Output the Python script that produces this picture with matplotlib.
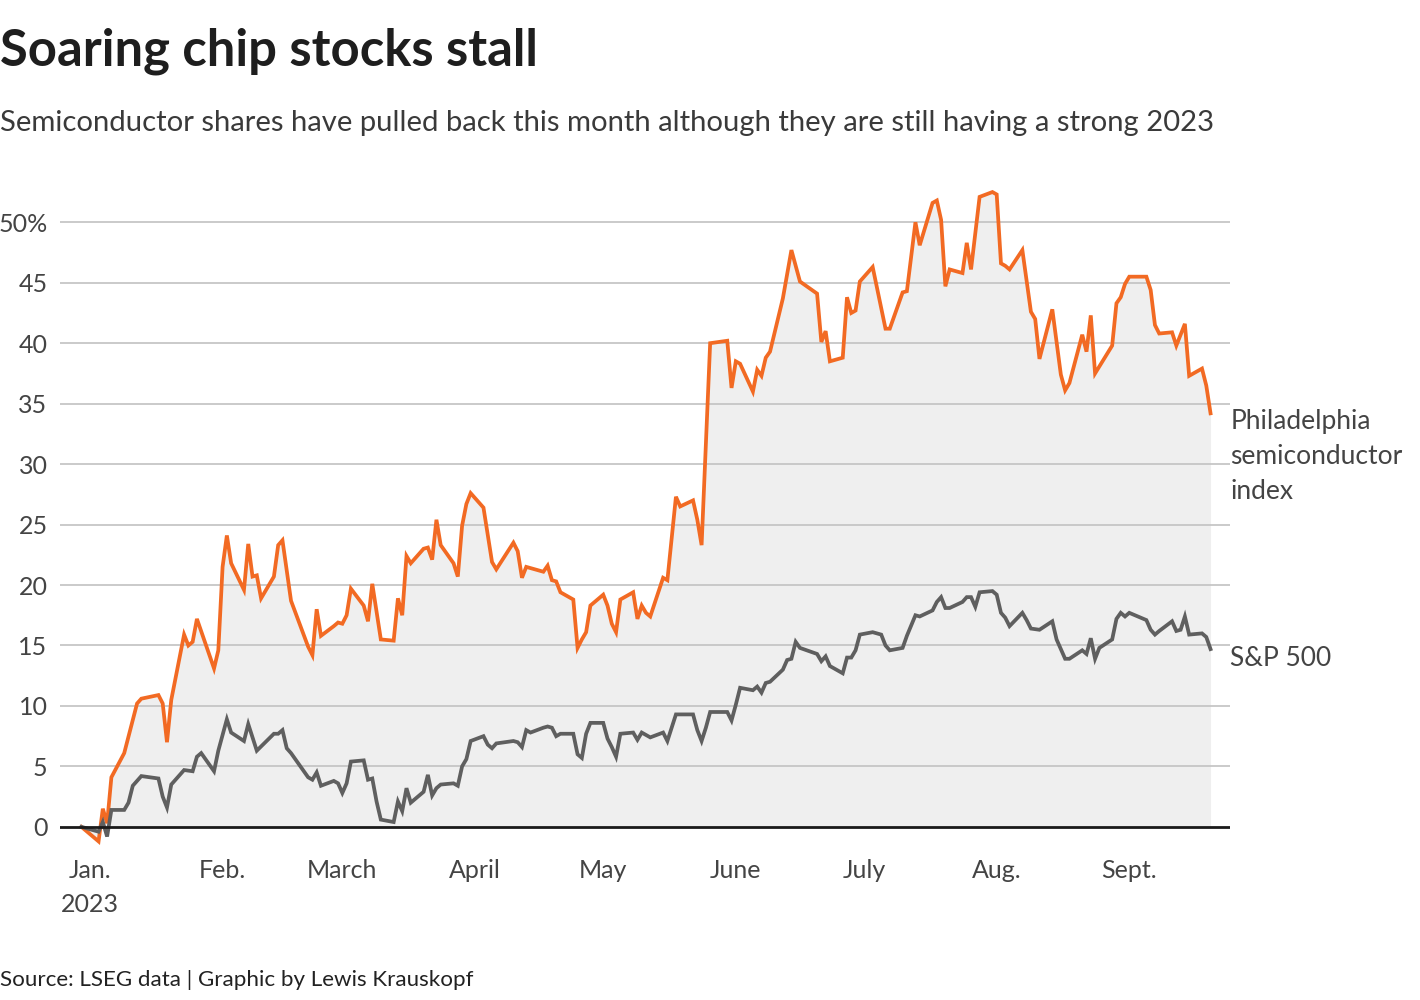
import matplotlib
matplotlib.use("Agg")
import matplotlib.pyplot as plt
import matplotlib.transforms as mtransforms
import pandas as pd

plt.rcParams["font.family"] = ["Lato", "DejaVu Sans"]

# Philadelphia semiconductor index, % change since end of 2022
sox_dates = [
    "2022-12-30", "2023-01-03", "2023-01-04", "2023-01-05", "2023-01-06", "2023-01-09",
    "2023-01-12", "2023-01-13", "2023-01-17", "2023-01-18", "2023-01-19", "2023-01-20",
    "2023-01-23", "2023-01-24", "2023-01-25", "2023-01-26", "2023-01-30", "2023-01-31",
    "2023-02-01", "2023-02-02", "2023-02-03", "2023-02-06", "2023-02-07", "2023-02-08",
    "2023-02-09", "2023-02-10", "2023-02-13", "2023-02-14", "2023-02-15", "2023-02-17",
    "2023-02-21", "2023-02-22", "2023-02-23", "2023-02-24", "2023-02-27", "2023-02-28",
    "2023-03-01", "2023-03-02", "2023-03-03", "2023-03-06", "2023-03-07", "2023-03-08",
    "2023-03-10", "2023-03-13", "2023-03-14", "2023-03-15", "2023-03-16", "2023-03-17",
    "2023-03-20", "2023-03-21", "2023-03-22", "2023-03-23", "2023-03-24", "2023-03-27",
    "2023-03-28", "2023-03-29", "2023-03-30", "2023-03-31", "2023-04-03", "2023-04-05",
    "2023-04-06", "2023-04-10", "2023-04-11", "2023-04-12", "2023-04-13", "2023-04-14",
    "2023-04-17", "2023-04-18", "2023-04-19", "2023-04-20", "2023-04-21", "2023-04-24",
    "2023-04-25", "2023-04-26", "2023-04-27", "2023-04-28", "2023-05-01", "2023-05-02",
    "2023-05-03", "2023-05-04", "2023-05-05", "2023-05-08", "2023-05-09", "2023-05-10",
    "2023-05-11", "2023-05-12", "2023-05-15", "2023-05-16", "2023-05-18", "2023-05-19",
    "2023-05-22", "2023-05-23", "2023-05-24", "2023-05-26", "2023-05-30", "2023-05-31",
    "2023-06-01", "2023-06-02", "2023-06-05", "2023-06-06", "2023-06-07", "2023-06-08",
    "2023-06-09", "2023-06-12", "2023-06-14", "2023-06-16", "2023-06-20", "2023-06-21",
    "2023-06-22", "2023-06-23", "2023-06-26", "2023-06-27", "2023-06-28", "2023-06-29",
    "2023-06-30", "2023-07-03", "2023-07-06", "2023-07-07", "2023-07-10", "2023-07-11",
    "2023-07-13", "2023-07-14", "2023-07-17", "2023-07-18", "2023-07-19", "2023-07-20",
    "2023-07-21", "2023-07-24", "2023-07-25", "2023-07-26", "2023-07-28", "2023-07-31",
    "2023-08-01", "2023-08-02", "2023-08-03", "2023-08-04", "2023-08-07", "2023-08-09",
    "2023-08-10", "2023-08-11", "2023-08-14", "2023-08-16", "2023-08-17", "2023-08-18",
    "2023-08-21", "2023-08-22", "2023-08-23", "2023-08-24", "2023-08-28", "2023-08-29",
    "2023-08-30", "2023-08-31", "2023-09-01", "2023-09-05", "2023-09-06", "2023-09-07",
    "2023-09-08", "2023-09-11", "2023-09-12", "2023-09-14", "2023-09-15", "2023-09-18",
    "2023-09-19", "2023-09-20",
]
sox_values = [
    0.0, -1.2, 1.5, 0.3, 4.1, 6.1,
    10.2, 10.6, 10.9, 10.2, 7.0, 10.5,
    15.9, 15.0, 15.3, 17.2, 13.1, 14.6,
    21.5, 24.1, 21.8, 19.6, 23.4, 20.7,
    20.8, 18.9, 20.7, 23.3, 23.7, 18.7,
    14.9, 14.2, 18.0, 15.8, 16.6, 16.9,
    16.8, 17.5, 19.7, 18.3, 17.0, 20.1,
    15.5, 15.4, 18.9, 17.5, 22.4, 21.8,
    23.0, 23.1, 22.1, 25.4, 23.3, 21.8,
    20.7, 24.9, 26.7, 27.6, 26.4, 21.9,
    21.3, 23.5, 22.8, 20.6, 21.5, 21.4,
    21.1, 21.6, 20.4, 20.3, 19.4, 18.8,
    14.8, 15.5, 16.1, 18.3, 19.2, 18.3,
    16.8, 16.1, 18.8, 19.4, 17.2, 18.3,
    17.7, 17.4, 20.6, 20.4, 27.3, 26.5,
    27.0, 25.4, 23.3, 40.0, 40.2, 36.3,
    38.5, 38.3, 36.0, 37.8, 37.3, 38.8,
    39.3, 43.7, 47.7, 45.1, 44.1, 40.1,
    41.0, 38.5, 38.8, 43.8, 42.5, 42.7,
    45.1, 46.3, 41.2, 41.2, 44.2, 44.3,
    50.0, 48.1, 51.6, 51.8, 50.2, 44.7,
    46.1, 45.8, 48.3, 46.1, 52.1, 52.5,
    52.3, 46.6, 46.4, 46.1, 47.7, 42.6,
    42.0, 38.7, 42.8, 37.4, 36.1, 36.7,
    40.7, 39.3, 42.3, 37.5, 39.8, 43.3,
    43.8, 44.9, 45.5, 45.5, 44.4, 41.5,
    40.8, 40.9, 39.8, 41.6, 37.3, 37.9,
    36.5, 34.2,
]

# S&P 500, % change since end of 2022
spx_dates = [
    "2022-12-30", "2023-01-03", "2023-01-04", "2023-01-05", "2023-01-06", "2023-01-09",
    "2023-01-10", "2023-01-11", "2023-01-13", "2023-01-17", "2023-01-18", "2023-01-19",
    "2023-01-20", "2023-01-23", "2023-01-25", "2023-01-26", "2023-01-27", "2023-01-30",
    "2023-01-31", "2023-02-02", "2023-02-03", "2023-02-06", "2023-02-07", "2023-02-09",
    "2023-02-13", "2023-02-14", "2023-02-15", "2023-02-16", "2023-02-17", "2023-02-21",
    "2023-02-22", "2023-02-23", "2023-02-24", "2023-02-27", "2023-02-28", "2023-03-01",
    "2023-03-02", "2023-03-03", "2023-03-06", "2023-03-07", "2023-03-08", "2023-03-09",
    "2023-03-10", "2023-03-13", "2023-03-14", "2023-03-15", "2023-03-16", "2023-03-17",
    "2023-03-20", "2023-03-21", "2023-03-22", "2023-03-23", "2023-03-24", "2023-03-27",
    "2023-03-28", "2023-03-29", "2023-03-30", "2023-03-31", "2023-04-03", "2023-04-04",
    "2023-04-05", "2023-04-06", "2023-04-10", "2023-04-11", "2023-04-12", "2023-04-13",
    "2023-04-14", "2023-04-17", "2023-04-18", "2023-04-19", "2023-04-20", "2023-04-21",
    "2023-04-24", "2023-04-25", "2023-04-26", "2023-04-27", "2023-04-28", "2023-05-01",
    "2023-05-02", "2023-05-03", "2023-05-04", "2023-05-05", "2023-05-08", "2023-05-09",
    "2023-05-10", "2023-05-12", "2023-05-15", "2023-05-16", "2023-05-18", "2023-05-19",
    "2023-05-22", "2023-05-23", "2023-05-24", "2023-05-25", "2023-05-26", "2023-05-30",
    "2023-05-31", "2023-06-01", "2023-06-02", "2023-06-05", "2023-06-06", "2023-06-07",
    "2023-06-08", "2023-06-09", "2023-06-12", "2023-06-13", "2023-06-14", "2023-06-15",
    "2023-06-16", "2023-06-20", "2023-06-21", "2023-06-22", "2023-06-23", "2023-06-26",
    "2023-06-27", "2023-06-28", "2023-06-29", "2023-06-30", "2023-07-03", "2023-07-05",
    "2023-07-06", "2023-07-07", "2023-07-10", "2023-07-11", "2023-07-13", "2023-07-14",
    "2023-07-17", "2023-07-18", "2023-07-19", "2023-07-20", "2023-07-21", "2023-07-24",
    "2023-07-25", "2023-07-26", "2023-07-27", "2023-07-28", "2023-07-31", "2023-08-01",
    "2023-08-02", "2023-08-03", "2023-08-04", "2023-08-07", "2023-08-08", "2023-08-09",
    "2023-08-11", "2023-08-14", "2023-08-15", "2023-08-17", "2023-08-18", "2023-08-21",
    "2023-08-22", "2023-08-23", "2023-08-24", "2023-08-25", "2023-08-28", "2023-08-29",
    "2023-08-30", "2023-08-31", "2023-09-01", "2023-09-05", "2023-09-06", "2023-09-07",
    "2023-09-08", "2023-09-11", "2023-09-12", "2023-09-13", "2023-09-14", "2023-09-15",
    "2023-09-18", "2023-09-19", "2023-09-20",
]
spx_values = [
    0.0, -0.4, 0.4, -0.8, 1.4, 1.4,
    2.0, 3.4, 4.2, 4.0, 2.5, 1.6,
    3.5, 4.7, 4.6, 5.8, 6.1, 4.6,
    6.3, 8.9, 7.8, 7.1, 8.5, 6.3,
    7.7, 7.7, 8.0, 6.5, 6.1, 4.1,
    3.9, 4.5, 3.4, 3.8, 3.6, 2.8,
    3.6, 5.4, 5.5, 3.9, 4.0, 2.1,
    0.6, 0.4, 2.1, 1.3, 3.2, 2.0,
    2.9, 4.3, 2.6, 3.2, 3.5, 3.6,
    3.4, 5.0, 5.6, 7.1, 7.5, 6.8,
    6.5, 6.9, 7.1, 7.0, 6.6, 8.0,
    7.8, 8.2, 8.3, 8.2, 7.5, 7.7,
    7.7, 6.0, 5.7, 7.7, 8.6, 8.6,
    7.3, 6.6, 5.8, 7.7, 7.8, 7.2,
    7.8, 7.4, 7.8, 7.1, 9.3, 9.3,
    9.3, 8.0, 7.1, 8.2, 9.5, 9.5,
    8.8, 10.1, 11.5, 11.3, 11.6, 11.1,
    11.9, 12.0, 13.0, 13.8, 13.9, 15.3,
    14.8, 14.3, 13.7, 14.1, 13.3, 12.7,
    14.0, 14.0, 14.6, 15.9, 16.1, 15.9,
    15.0, 14.6, 14.8, 15.8, 17.5, 17.4,
    17.9, 18.6, 19.0, 18.1, 18.1, 18.6,
    19.0, 19.0, 18.2, 19.4, 19.5, 19.2,
    17.7, 17.3, 16.6, 17.7, 17.1, 16.4,
    16.3, 17.0, 15.5, 13.9, 13.9, 14.6,
    14.3, 15.6, 13.9, 14.8, 15.5, 17.2,
    17.7, 17.4, 17.7, 17.1, 16.3, 15.9,
    16.2, 17.0, 16.2, 16.3, 17.4, 15.9,
    16.0, 15.7, 14.7,
]

month_ticks = ["2023-01-01", "2023-02-01", "2023-03-01", "2023-04-01", "2023-05-01",
               "2023-06-01", "2023-07-01", "2023-08-01", "2023-09-01"]
month_labels = ["Jan.\n2023", "Feb.", "March", "April", "May", "June", "July", "Aug.", "Sept."]
y_ticks = [0, 5, 10, 15, 20, 25, 30, 35, 40, 45, 50]
y_labels = ["0", "5", "10", "15", "20", "25", "30", "35", "40", "45", "50%"]

ORANGE = "#f26a23"
GREY = "#5f5f5f"
TEXT = "#444444"

sox_x = pd.to_datetime(sox_dates)
spx_x = pd.to_datetime(spx_dates)

fig = plt.figure(figsize=(14.2, 10), dpi=100)
ax = fig.add_axes([0.0423, 0.155, 0.824, 0.659])

ax.fill_between(sox_x, sox_values, 0, color="#efefef", linewidth=0, zorder=1)
for y in y_ticks[1:]:
    ax.axhline(y, color="#c6c6c6", linewidth=1.3, zorder=2)
ax.axhline(0, color="#1a1a1a", linewidth=2.0, zorder=5)

ax.plot(sox_x, sox_values, color=ORANGE, linewidth=2.7, zorder=3, solid_joinstyle="miter")
ax.plot(spx_x, spx_values, color=GREY, linewidth=2.7, zorder=4, solid_joinstyle="miter")

ax.set_xlim(pd.Timestamp("2022-12-25"), pd.Timestamp("2023-09-24") + pd.Timedelta(hours=14))
ax.set_ylim(-1.5, 53)

ax.set_xticks(pd.to_datetime(month_ticks))
ax.set_xticklabels(month_labels, fontsize=18, color=TEXT, linespacing=1.6)
ax.set_yticks(y_ticks)
ax.set_yticklabels(y_labels, fontsize=18, color=TEXT)
ax.tick_params(axis="x", length=0, pad=10)
ax.tick_params(axis="y", length=0, pad=9)
for lab in ax.get_xticklabels():
    lab.set_verticalalignment("top")
for s in ax.spines.values():
    s.set_visible(False)

# series labels at the right end of the lines
trans = mtransforms.blended_transform_factory(ax.transAxes, ax.transData)
ax.text(1.0, 30.6, "Philadelphia\nsemiconductor\nindex", transform=trans, ha="left", va="center",
        fontsize=19, color=TEXT, linespacing=1.5)
ax.text(1.0, 13.9, "S&P 500", transform=trans, ha="left", va="center",
        fontsize=19, color=TEXT)

fig.text(0.0, 0.949, "Soaring chip stocks stall", fontsize=36.5, fontweight="bold",
         color="#1e1e1e", ha="left", va="center")
fig.text(0.0, 0.877, "Semiconductor shares have pulled back this month although they are still having a strong 2023",
         fontsize=21.05, color="#3a3a3a", ha="left", va="center")
fig.text(0.0, 0.02, "Source: LSEG data | Graphic by Lewis Krauskopf", fontsize=16.1,
         color="#222222", ha="left", va="center")

fig.savefig("out.png", dpi=100, facecolor="white")
